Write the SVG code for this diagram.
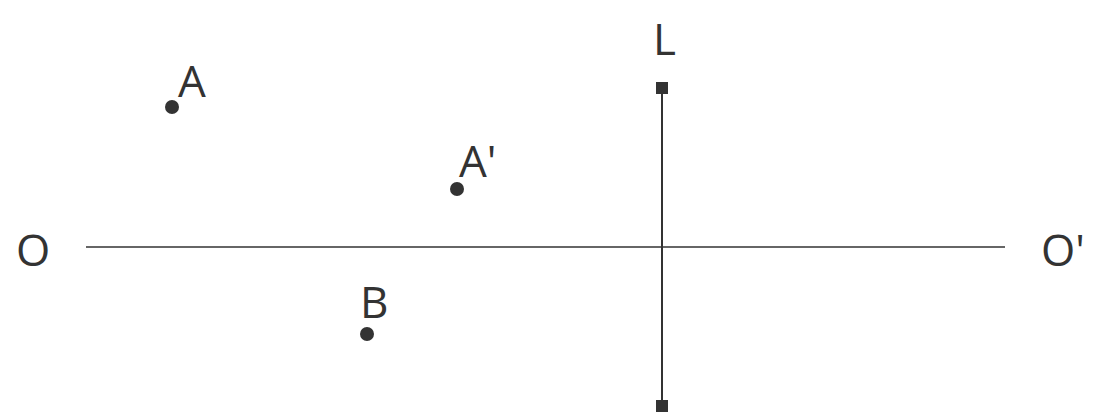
<svg xmlns="http://www.w3.org/2000/svg" width="1116" height="415" viewBox="0 0 1116 415">
<style>
.lbl{font-family:"Open Sans","Liberation Sans",sans-serif;font-size:44px;fill:#333}
.pt{fill:#333}
</style>
<rect width="1116" height="415" fill="#fff"/>
<g id="connectors">
<line x1="86" y1="247" x2="1005" y2="247" stroke="#333" stroke-width="1.3"/>
<line x1="662" y1="88" x2="662" y2="406" stroke="#333" stroke-width="2"/>
</g>
<g id="lens">
<rect x="656" y="82" width="12" height="12" fill="#333"/>
<rect x="656" y="400" width="12" height="12" fill="#333"/>
<text class="lbl" x="653" y="55">L</text>
</g>
<g id="O"><text class="lbl" x="16" y="266">O</text></g>
<g id="Oprime"><text class="lbl" x="1041" y="266">O'</text></g>
<g id="A"><circle class="pt" cx="172" cy="107" r="7"/><text class="lbl" x="178" y="97">A</text></g>
<g id="Aprime"><circle class="pt" cx="457" cy="189" r="7"/><text class="lbl" x="459" y="177">A'</text></g>
<g id="B"><circle class="pt" cx="367" cy="334" r="7"/><text class="lbl" x="360" y="318">B</text></g>
</svg>
